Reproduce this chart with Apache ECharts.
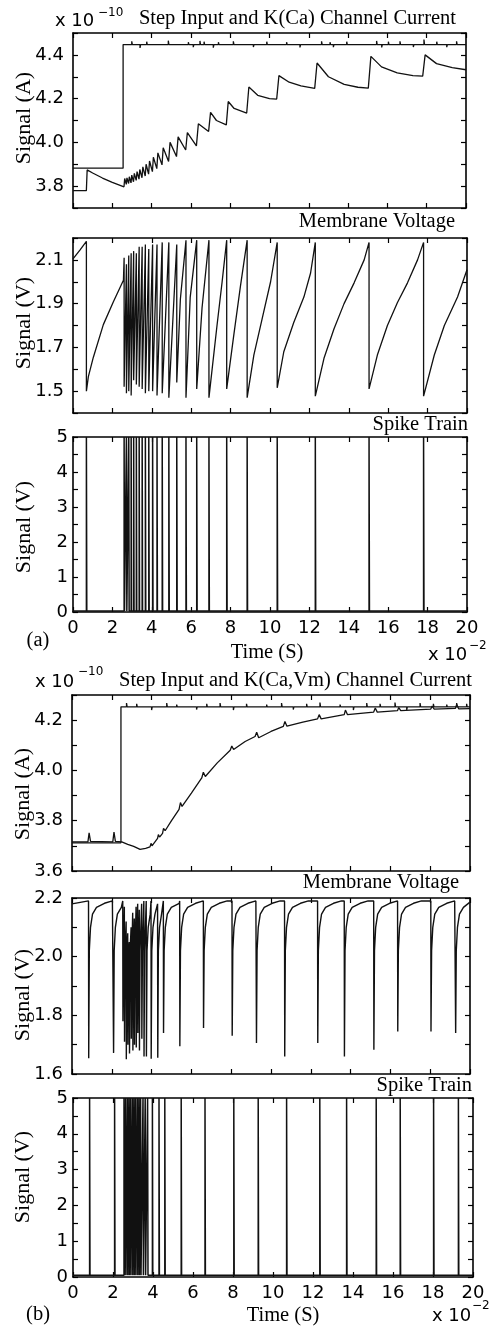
<!DOCTYPE html>
<html>
<head>
<meta charset="utf-8">
<script src="https://cdn.jsdelivr.net/npm/echarts@6/dist/echarts.min.js"></script>
<style>
  html, body { margin: 0; padding: 0; background: #fff; }
  #chart { width: 490px; height: 1326px; }
</style>
</head>
<body>
<div id="chart"></div>
<script>
// time axis is in units of 1e-2 s, currents in 1e-10 A

// ---------- (a) K(Ca) channel ----------
var spikesA = [0.68, 2.595, 2.712, 2.83, 2.952, 3.079, 3.216, 3.359, 3.511, 3.674, 3.847,
  4.041, 4.265, 4.529, 4.865, 5.267, 5.735, 6.28, 6.901, 7.802, 8.84, 10.366, 12.3, 15.028, 17.796]

var stepA = { t: 2.55, low: 3.882, high: 4.447 }
var blipTimesA = [2.99, 3.41, 3.75, 4.85, 5.87, 6.12, 6.46, 6.67, 7.14, 7.40, 8.16, 9.18, 9.86, 10.87,
  11.55, 12.65, 13.08, 13.25, 13.93, 15.45, 15.71, 16.05, 16.64, 17.32, 17.86, 18.51, 19.02, 19.52]
var blipValuesA = [4.462, 4.432, 4.46, 4.465, 4.458, 4.435, 4.464, 4.46, 4.433, 4.458, 4.462, 4.436, 4.46, 4.458,
  4.434, 4.462, 4.458, 4.435, 4.46, 4.464, 4.434, 4.46, 4.462, 4.436, 4.47, 4.46, 4.435, 4.462]

var currentA = [[0, 3.779], [0.68, 3.779], [0.72, 3.874], [1.0, 3.86], [1.5, 3.837], [2.0, 3.817], [2.595, 3.797],
  [2.63, 3.835], [2.712, 3.808], [2.745, 3.838], [2.83, 3.812], [2.865, 3.843], [2.952, 3.815], [2.99, 3.85],
  [3.079, 3.82], [3.12, 3.858], [3.216, 3.826], [3.26, 3.866], [3.359, 3.832], [3.40, 3.876], [3.511, 3.838],
  [3.555, 3.888], [3.674, 3.846], [3.72, 3.9], [3.847, 3.855], [3.895, 3.915], [4.041, 3.866], [4.09, 3.932],
  [4.265, 3.88], [4.32, 3.952], [4.529, 3.897], [4.59, 3.975], [4.865, 3.913], [4.94, 4.0], [5.267, 3.935],
  [5.35, 4.025], [5.735, 3.965], [5.82, 4.045], [6.28, 3.984], [6.38, 4.085], [6.901, 4.05], [7.0, 4.137],
  [7.3, 4.10], [7.802, 4.08], [7.9, 4.187], [8.2, 4.155], [8.84, 4.134], [8.95, 4.253], [9.4, 4.215],
  [10.0, 4.2], [10.366, 4.198], [10.48, 4.305], [11.0, 4.275], [11.6, 4.258], [12.3, 4.247], [12.42, 4.363],
  [13.0, 4.30], [13.8, 4.265], [14.5, 4.252], [15.028, 4.248], [15.16, 4.393], [15.7, 4.345], [16.5, 4.318],
  [17.3, 4.305], [17.796, 4.303], [17.92, 4.40], [18.5, 4.36], [19.3, 4.342], [20, 4.332]]

var membraneA = [[0, 2.105], [0.35, 2.145], [0.68, 2.185], [0.68, 1.50], [0.78, 1.566], [1.03, 1.654],
  [1.54, 1.804], [2.05, 1.909], [2.56, 2.007],
  [2.595, 2.11], [2.595, 1.52], [2.712, 2.08], [2.712, 1.49], [2.83, 2.12], [2.83, 1.50],
  [2.952, 2.13], [2.952, 1.48], [3.079, 2.14], [3.079, 1.55], [3.216, 2.13], [3.216, 1.53],
  [3.359, 2.16], [3.359, 1.52], [3.511, 2.16], [3.511, 1.51], [3.674, 2.17], [3.674, 1.49],
  [3.847, 2.15], [3.847, 1.50], [4.041, 2.17], [4.041, 1.50], [4.265, 2.17], [4.265, 1.48],
  [4.529, 2.18], [4.529, 1.49], [4.865, 2.18], [4.865, 1.47], [5.267, 2.17], [5.267, 1.54],
  [5.45, 1.92], [5.735, 2.19], [5.735, 1.47], [5.95, 1.93], [6.28, 2.19], [6.28, 1.51],
  [6.55, 1.88], [6.901, 2.19], [6.901, 1.47], [7.31, 1.80], [7.57, 2.0], [7.802, 2.19], [7.802, 1.51],
  [8.16, 1.755], [8.50, 1.98], [8.84, 2.19], [8.84, 1.47], [9.18, 1.665], [9.6, 1.83], [10.03, 2.0],
  [10.366, 2.18], [10.366, 1.515], [10.70, 1.68], [11.21, 1.815], [11.72, 1.93], [12.06, 2.04],
  [12.3, 2.18], [12.3, 1.477], [12.74, 1.65], [13.25, 1.785], [13.76, 1.90], [14.27, 1.995], [14.78, 2.10],
  [15.028, 2.18], [15.028, 1.51], [15.45, 1.665], [15.96, 1.80], [16.47, 1.905], [16.98, 1.995], [17.49, 2.10],
  [17.796, 2.18], [17.796, 1.477], [18.34, 1.665], [18.85, 1.80], [19.52, 1.93], [20, 2.055]]

var spikeBaseA = 0.03

// ---------- (b) K(Ca,Vm) channel ----------
var spikesB = [0.83, 2.08, 2.55, 2.63, 2.72, 2.80, 2.88, 2.97, 3.05, 3.13, 3.22, 3.30, 3.38, 3.50, 3.61,
  3.73, 3.97, 4.30, 4.59, 5.41, 6.60, 8.04, 9.26, 10.68, 12.34, 13.68, 15.16, 16.36, 18.03, 19.27]

var stepB = { t: 2.46, low: 3.712, high: 4.253 }
var blipTimesB = [2.74, 3.25, 4.0, 4.76, 5.26, 6.26, 6.77, 7.44, 8.11, 8.77, 9.78, 10.53, 11.12, 11.79,
  12.46, 13.47, 14.14, 14.81, 15.48, 16.23, 16.82, 17.49, 18.16, 18.83, 19.33, 19.83]
var blipValuesB = [4.268, 4.265, 4.24, 4.268, 4.262, 4.242, 4.265, 4.268, 4.24, 4.265, 4.262, 4.268, 4.242,
  4.265, 4.27, 4.262, 4.24, 4.268, 4.265, 4.27, 4.24, 4.268, 4.265, 4.262, 4.268, 4.265]

var currentB = [[0, 3.716], [0.8, 3.716], [0.86, 3.752], [0.93, 3.718], [2.05, 3.716], [2.11, 3.755],
  [2.18, 3.718], [2.5, 3.716], [2.8, 3.706], [3.1, 3.698], [3.42, 3.686], [3.7, 3.69], [3.92, 3.696],
  [3.97, 3.71], [4.02, 3.70], [4.3, 3.73], [4.34, 3.745], [4.4, 3.735], [4.55, 3.75], [4.6, 3.77],
  [4.68, 3.76], [5.0, 3.80], [5.38, 3.845], [5.45, 3.872], [5.53, 3.857], [6.0, 3.91], [6.52, 3.97],
  [6.6, 3.993], [6.7, 3.976], [7.3, 4.03], [7.95, 4.08], [8.03, 4.097], [8.12, 4.083], [8.7, 4.115],
  [9.2, 4.135], [9.28, 4.152], [9.38, 4.13], [10.0, 4.155], [10.62, 4.175], [10.7, 4.195], [10.8, 4.176],
  [11.6, 4.192], [12.34, 4.205], [12.42, 4.222], [12.52, 4.205], [13.68, 4.222], [13.74, 4.24],
  [13.84, 4.222], [15.16, 4.232], [15.24, 4.248], [15.34, 4.232], [16.36, 4.238], [16.42, 4.25],
  [16.52, 4.238], [18.03, 4.244], [18.1, 4.256], [18.2, 4.244], [19.27, 4.247], [19.33, 4.262],
  [19.43, 4.245], [20, 4.246]]

// membrane voltage just before each spike, the dip right after it, and the recovery read from one clean cycle
var preSpikeB = [2.19, 2.19, 2.19, 2.17, 2.12, 2.08, 2.05, 2.10, 2.15, 2.13, 2.17, 2.18, 2.16, 2.18, 2.19,
  2.19, 2.19, 2.18, 2.19, 2.19, 2.19, 2.19, 2.19, 2.19, 2.19, 2.19, 2.19, 2.19, 2.19, 2.19]
var dipB = [1.654, 1.672, 1.78, 1.71, 1.65, 1.70, 1.67, 1.72, 1.68, 1.70, 1.69, 1.74, 1.68, 1.72, 1.66,
  1.66, 1.652, 1.655, 1.74, 1.695, 1.757, 1.73, 1.706, 1.66, 1.706, 1.66, 1.683, 1.745, 1.745, 1.74]
var recoveryB = [[0.04, 2.02], [0.1, 2.1], [0.2, 2.145], [0.4, 2.168], [0.8, 2.182], [1.2, 2.19]]
var membraneStartB = 2.18
var membraneEndB = 2.186

var spikeBaseB = 0.05

// tick labels
var yLabelsA1 = ['3.8', '4.0', '4.2', '4.4']
var yLabelsA2 = ['1.5', '1.7', '1.9', '2.1']
var yLabelsB1 = ['3.6', '3.8', '4.0', '4.2']
var yLabelsB2 = ['1.6', '1.8', '2.0', '2.2']
var yLabelsSpike = ['0', '1', '2', '3', '4', '5']

// ---------- build line data ----------
function stepLine (step, blipT, blipV) {
  var pts = [[0, step.low], [step.t, step.low], [step.t, step.high]]
  blipT.forEach(function (t, i) {
    pts.push([t, step.high], [t, blipV[i]], [t + 0.03, step.high])
  })
  pts.push([20, step.high])
  return pts
}

function spikeLine (times, base) {
  var pts = [[0, base]]
  times.forEach(function (t) {
    pts.push([t, base], [t, 5], [t + 0.02, base])
  })
  pts.push([20, base])
  return pts
}

function membraneLineB () {
  var pts = [[0, membraneStartB]]
  spikesB.forEach(function (t, i) {
    pts.push([t, preSpikeB[i]], [t + 0.01, dipB[i]])
    var next = i + 1 < spikesB.length ? spikesB[i + 1] : 20
    recoveryB.forEach(function (p) {
      if (t + p[0] < next - 0.02) pts.push([t + p[0], p[1]])
    })
  })
  pts.push([20, membraneEndB])
  return pts
}

// ---------- layout ----------
var panels = [
  { left: 73, top: 33, width: 393, height: 175, min: 3.7, max: 4.5, step: 0.1, labels: yLabelsA1, digits: 1 },
  { left: 73, top: 238, width: 394, height: 175, min: 1.4, max: 2.2, step: 0.1, labels: yLabelsA2, digits: 1 },
  { left: 73, top: 437, width: 394, height: 175, min: 0, max: 5, step: 0.5, labels: yLabelsSpike, digits: 0 },
  { left: 72, top: 695, width: 398, height: 176, min: 3.6, max: 4.3, step: 0.1, labels: yLabelsB1, digits: 1 },
  { left: 72, top: 898, width: 398, height: 176, min: 1.6, max: 2.2, step: 0.1, labels: yLabelsB2, digits: 1 },
  { left: 73, top: 1098, width: 400, height: 179, min: 0, max: 5, step: 0.5, labels: yLabelsSpike, digits: 0 }
]

var tickFont = 'DejaVu Sans'
var serif = '"Liberation Serif", "DejaVu Serif", serif'
var ink = '#000'

var grids = []
var xAxes = []
var yAxes = []

panels.forEach(function (p, i) {
  grids.push({ left: p.left, top: p.top, width: p.width, height: p.height, show: false })
  var lineStyle = { color: ink, width: 1.6 }
  var tick = { show: true, inside: true, length: 5, lineStyle: { color: ink, width: 1.2 } }
  var showX = i === 2 || i === 5
  xAxes.push({
    type: 'value', gridIndex: i, position: 'bottom', min: 0, max: 20, interval: 2,
    axisLine: { onZero: false, lineStyle: lineStyle },
    axisTick: tick,
    axisLabel: { show: showX, color: ink, fontFamily: tickFont, fontSize: 18, margin: 7 },
    splitLine: { show: false }
  })
  xAxes.push({
    type: 'value', gridIndex: i, position: 'top', min: 0, max: 20, interval: 2,
    axisLine: { onZero: false, lineStyle: lineStyle },
    axisTick: tick, axisLabel: { show: false }, splitLine: { show: false }
  })
  yAxes.push({
    type: 'value', gridIndex: i, position: 'left', min: p.min, max: p.max, interval: p.step,
    axisLine: { onZero: false, lineStyle: lineStyle },
    axisTick: tick,
    axisLabel: {
      color: ink, fontFamily: tickFont, fontSize: 18, margin: p.digits ? 9 : 5,
      formatter: function (v) {
        var s = v.toFixed(p.digits)
        if (p.digits === 0 && Math.abs(v - Math.round(v)) > 1e-6) return ''
        return p.labels.indexOf(s) >= 0 ? s : ''
      }
    },
    splitLine: { show: false }
  })
  yAxes.push({
    type: 'value', gridIndex: i, position: 'right', min: p.min, max: p.max, interval: p.step,
    axisLine: { onZero: false, lineStyle: lineStyle },
    axisTick: tick, axisLabel: { show: false }, splitLine: { show: false }
  })
})

function trace (panel, data, width) {
  return {
    type: 'line', xAxisIndex: panel * 2, yAxisIndex: panel * 2, data: data,
    showSymbol: false, symbol: 'none', animation: false, silent: true,
    lineStyle: { color: '#111', width: width || 1.3 }
  }
}

var series = [
  trace(0, stepLine(stepA, blipTimesA, blipValuesA)),
  trace(0, currentA),
  trace(1, membraneA),
  trace(2, spikeLine(spikesA, spikeBaseA), 1.5),
  trace(3, stepLine(stepB, blipTimesB, blipValuesB)),
  trace(3, currentB),
  trace(4, membraneLineB(), 1.4),
  trace(5, spikeLine(spikesB, spikeBaseB), 1.5)
]

// ---------- text ----------
function label (x, y, text, font, align, rotate) {
  return {
    type: 'text', x: x, y: y, rotation: rotate ? Math.PI / 2 : 0, silent: true,
    style: { text: text, font: font, fill: ink, textAlign: align, textVerticalAlign: 'middle' }
  }
}
var titleFont = '20.5px ' + serif
var nameFont = '22px ' + serif
var expFont = '18px "DejaVu Sans"'
var supFont = '12px "DejaVu Sans"'

var graphics = [
  label(55, 21, 'x 10', expFont, 'left'),
  label(98, 13, '\u221210', supFont, 'left'),
  label(456, 19, 'Step Input and K(Ca) Channel Current', titleFont, 'right'),
  label(455, 222, 'Membrane Voltage', titleFont, 'right'),
  label(468, 425, 'Spike Train', titleFont, 'right'),
  label(267, 653, 'Time (S)', titleFont, 'center'),
  label(38, 641, '(a)', titleFont, 'center'),
  label(428, 655, 'x 10', expFont, 'left'),
  label(469, 646, '\u22122', supFont, 'left'),

  label(35, 682, 'x 10', expFont, 'left'),
  label(78, 672, '\u221210', supFont, 'left'),
  label(472, 681, 'Step Input and K(Ca,Vm) Channel Current', titleFont, 'right'),
  label(459, 883, 'Membrane Voltage', titleFont, 'right'),
  label(472, 1086, 'Spike Train', titleFont, 'right'),
  label(283, 1316, 'Time (S)', titleFont, 'center'),
  label(38, 1315, '(b)', titleFont, 'center'),
  label(432, 1316, 'x 10', expFont, 'left'),
  label(472, 1306, '\u22122', supFont, 'left'),

  label(24, 118, 'Signal (A)', nameFont, 'center', true),
  label(24, 323, 'Signal (V)', nameFont, 'center', true),
  label(24, 527, 'Signal (V)', nameFont, 'center', true),
  label(23, 794, 'Signal (A)', nameFont, 'center', true),
  label(23, 995, 'Signal (V)', nameFont, 'center', true),
  label(23, 1177, 'Signal (V)', nameFont, 'center', true)
]

var chart = echarts.init(document.getElementById('chart'))
chart.setOption({
  backgroundColor: '#fff',
  animation: false,
  grid: grids,
  xAxis: xAxes,
  yAxis: yAxes,
  series: series,
  graphic: graphics
})
</script>
</body>
</html>
